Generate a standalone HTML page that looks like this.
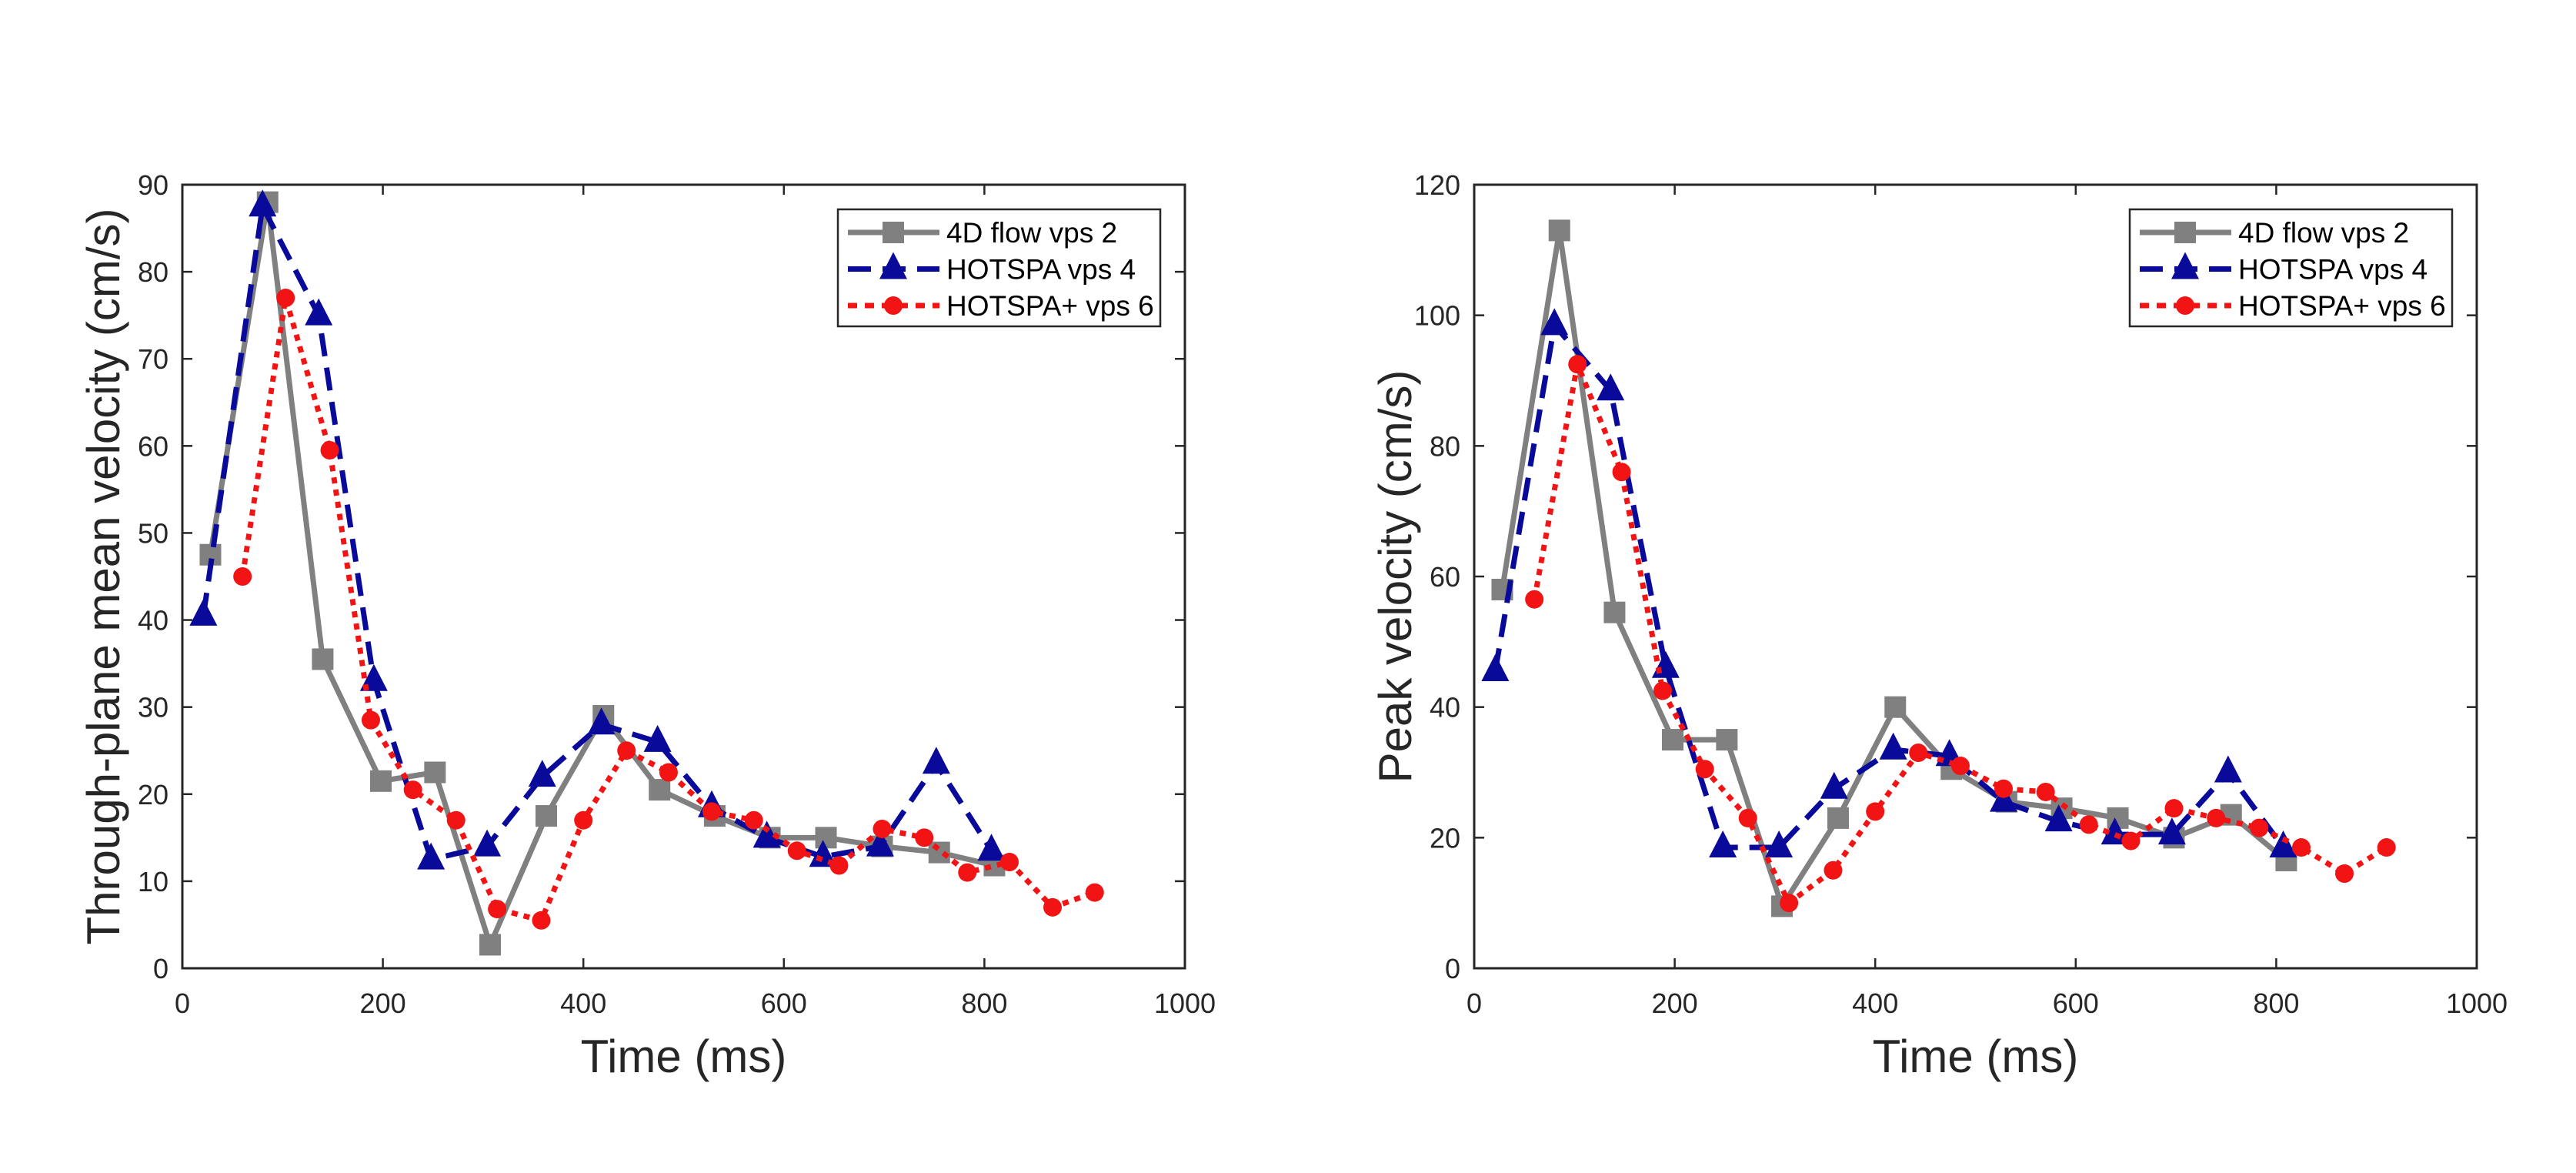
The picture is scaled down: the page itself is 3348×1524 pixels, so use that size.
<!DOCTYPE html>
<html><head><meta charset="utf-8"><style>
body{margin:0;background:#fff}
svg{display:block;font-family:"Liberation Sans",Arial,sans-serif}
</style></head><body>
<svg id="fig" width="3348" height="1524" viewBox="0 0 3348 1524" xmlns="http://www.w3.org/2000/svg"></svg>
<script>
const gTimes=[28,85,140,198,252,307,363,420,476,531,586,642,698,755,810];
const bTimes=[21,80,136,191,248,304,359,418,474,528,583,639,696,752,807];
const rTimes=[60,103,147,188,230,273,314,358,400,443,485,528,570,613,655,698,740,783,825,868,910];
const meanGray=[47.5,88,35.5,21.5,22.5,2.7,17.5,29,20.5,17.5,15,15,14,13.3,11.8];
const meanBlue=[40.5,87.5,75,33,12.5,14,22,28,26,18.5,15,12.8,14,23.5,13.5];
const meanRed=[45,77,59.5,28.5,20.5,17,6.8,5.5,17,25,22.5,18,17,13.5,11.8,16,15,11,12.2,7,8.7];
const peakGray=[58,113,54.5,35,35,9.5,23,40,30.5,25.5,24.5,23,20,23.5,16.5];
const peakBlue=[45.5,98.5,88.5,46,18.5,18.5,27.5,33.5,32.5,25.5,22.5,20.5,20.5,30,18.5];
const peakRed=[56.5,92.5,76,42.5,30.5,23,10,15,24,33,31,27.5,27,22,19.5,24.5,23,21.5,18.5,14.5,18.5];
const xTicks=[0,200,400,600,800,1000];
const leftYTicks=[0,10,20,30,40,50,60,70,80,90];
const rightYTicks=[0,20,40,60,80,100,120];
const legendLabels=["4D flow vps 2","HOTSPA vps 4","HOTSPA+ vps 6"];

const NS="http://www.w3.org/2000/svg";
const svg=document.getElementById('fig');
function mk(tag,attrs,parent){const e=document.createElementNS(NS,tag);for(const k in attrs)e.setAttribute(k,attrs[k]);(parent||svg).appendChild(e);return e;}

function panel(id,x0,x1,y0,y1,ymax,yTicks,ylabel,series){
  const g=mk('g',{});
  
  
  const sx=t=>x0+(t/1000)*(x1-x0);
  const sy=v=>y1-(v/ymax)*(y1-y0);
  const ax='#262626';
  xTicks.forEach(t=>{
    const X=sx(t);
    mk('line',{x1:X,x2:X,y1:y1,y2:y1-13,stroke:ax,'stroke-width':2.5},g);
    mk('line',{x1:X,x2:X,y1:y0,y2:y0+13,stroke:ax,'stroke-width':2.5},g);
    const tx=mk('text',{x:X,y:y1+58,'font-size':36,'text-anchor':'middle',fill:ax},g);
    tx.textContent=t;
    
    
  });
  yTicks.forEach(v=>{
    const Y=sy(v);
    mk('line',{x1:x0,x2:x0+13,y1:Y,y2:Y,stroke:ax,'stroke-width':2.5},g);
    mk('line',{x1:x1,x2:x1-13,y1:Y,y2:Y,stroke:ax,'stroke-width':2.5},g);
    const tx=mk('text',{x:x0-18,y:Y+13,'font-size':36,'text-anchor':'end',fill:ax},g);
    tx.textContent=v;
    
    
  });
  const box=mk('rect',{x:x0,y:y0,width:x1-x0,height:y1-y0,fill:'none',stroke:ax,'stroke-width':3},g);
  
  
  const xl=mk('text',{x:(x0+x1)/2,y:1393,'font-size':60,'text-anchor':'middle',fill:ax},g);
  xl.textContent='Time (ms)';
  
  
  const yl=mk('text',{x:0,y:0,'font-size':60,'text-anchor':'middle',fill:ax,transform:`translate(${x0-82},${(y0+y1)/2}) rotate(-90)`},g);
  yl.textContent=ylabel;
  
  
  series.forEach(s=>{
    const sg=mk('g',{},g);
    
    
    const pts=s.t.map((t,i)=>sx(t)+','+sy(s.v[i])).join(' ');
    mk('polyline',{points:pts,fill:'none',stroke:s.color,'stroke-width':s.w,'stroke-dasharray':s.dash||'none','stroke-linejoin':'round'},sg);
    s.t.forEach((t,i)=>marker(sg,s.marker,sx(t),sy(s.v[i]),s.color));
  });
  const lx=x0+852, ly=272;
  const lg=mk('g',{},g);
  
  
  mk('rect',{x:lx,y:ly,width:419,height:152,fill:'#fff',stroke:ax,'stroke-width':2.5},lg);
  series.forEach((s,i)=>{
    const cy=ly+30+i*47.5;
    const e=mk('g',{},lg);
    
    
    mk('line',{x1:lx+13,x2:lx+132,y1:cy,y2:cy,stroke:s.color,'stroke-width':s.w,'stroke-dasharray':s.ldash||'none'},e);
    marker(e,s.marker,lx+72,cy,s.color);
    const tx=mk('text',{x:lx+141,y:cy+13,'font-size':37,fill:'#000'},e);
    tx.textContent=legendLabels[i];
  });
}
function marker(p,type,x,y,c){
  if(type==='sq') mk('rect',{x:x-14,y:y-14,width:28,height:28,fill:c},p);
  else if(type==='tri') mk('polygon',{points:`${x},${y-22} ${x-18},${y+13} ${x+18},${y+13}`,fill:c},p);
  else mk('circle',{cx:x,cy:y,r:12,fill:c},p);
}
const gray='#808080',blue='#0a0a9a',red='#f21414';
panel('left',237,1540,240,1258,90,leftYTicks,'Through-plane mean velocity (cm/s)',[
  {name:'series-4d-flow',t:gTimes,v:meanGray,color:gray,w:7,marker:'sq'},
  {name:'series-hotspa',t:bTimes,v:meanBlue,color:blue,w:7,marker:'tri',dash:'30 15',ldash:'30 15'},
  {name:'series-hotspa-plus',t:rTimes,v:meanRed,color:red,w:7,marker:'dot',dash:'8 8',ldash:'12 10'}
]);
panel('right',1916,3219,240,1258,120,rightYTicks,'Peak velocity (cm/s)',[
  {name:'series-4d-flow',t:gTimes,v:peakGray,color:gray,w:7,marker:'sq'},
  {name:'series-hotspa',t:bTimes,v:peakBlue,color:blue,w:7,marker:'tri',dash:'30 15',ldash:'30 15'},
  {name:'series-hotspa-plus',t:rTimes,v:peakRed,color:red,w:7,marker:'dot',dash:'8 8',ldash:'12 10'}
]);
</script>
</body></html>
